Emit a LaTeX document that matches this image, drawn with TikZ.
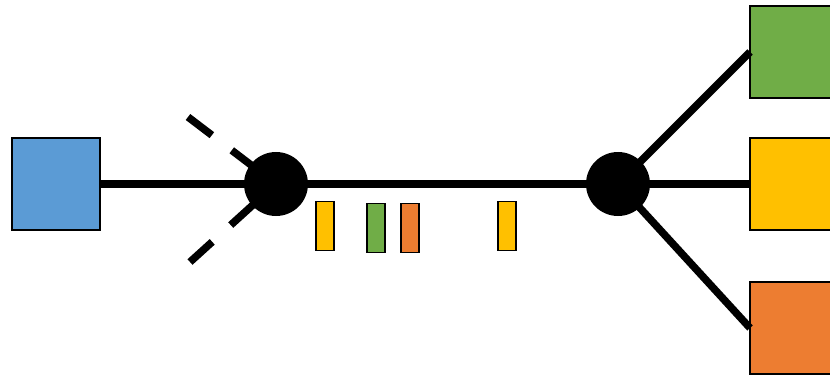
\documentclass[tikz,border=0pt]{standalone}
\definecolor{cblue}{HTML}{5B9BD5}
\definecolor{cgreen}{HTML}{70AD47}
\definecolor{cyellow}{HTML}{FFC000}
\definecolor{corange}{HTML}{ED7D31}
\begin{document}
\begin{tikzpicture}[x=1pt,y=-1pt,
  box/.style={draw=black,line width=2pt,minimum width=88pt,minimum height=92pt,inner sep=0pt,outer sep=0pt},
  chip/.style={draw=black,line width=1.8pt,minimum width=18pt,minimum height=49pt,inner sep=0pt},
  hub/.style={circle,fill=black,minimum size=64pt,inner sep=0pt},
  wire/.style={line width=7.5pt},
  dwire/.style={line width=7.5pt,dash pattern=on 30pt off 25pt}]
\useasboundingbox (0,0) rectangle (830,377);
\clip (0,0) rectangle (830,377);
\node[box,fill=cblue] (src) at (56,184) {};
\node[box,fill=cgreen,anchor=west] (g) at (750,52) {};
\node[box,fill=cyellow,anchor=west] (y) at (750,184) {};
\node[box,fill=corange,anchor=west] (o) at (750,328) {};
\coordinate (c1p) at (276,184);
\coordinate (c2p) at (618,184);
\coordinate (d1) at (188,117);
\coordinate (d2) at (190,262);
\draw[dwire] (d1) -- (c1p);
\draw[dwire] (d2) -- (c1p);
\draw[wire] (src.east) -- (c1p) -- (c2p);
\draw[wire] (c2p) -- (g.west);
\draw[wire] (c2p) -- (y.west);
\draw[wire] (c2p) -- (o.west);
\node[hub] (c1) at (c1p) {};
\node[hub] (c2) at (c2p) {};
\node[chip,fill=cyellow] (k1) at (325,226) {};
\node[chip,fill=cgreen] (k2) at (376,228) {};
\node[chip,fill=corange] (k3) at (410,228) {};
\node[chip,fill=cyellow] (k4) at (507,226) {};
\end{tikzpicture}
\end{document}
